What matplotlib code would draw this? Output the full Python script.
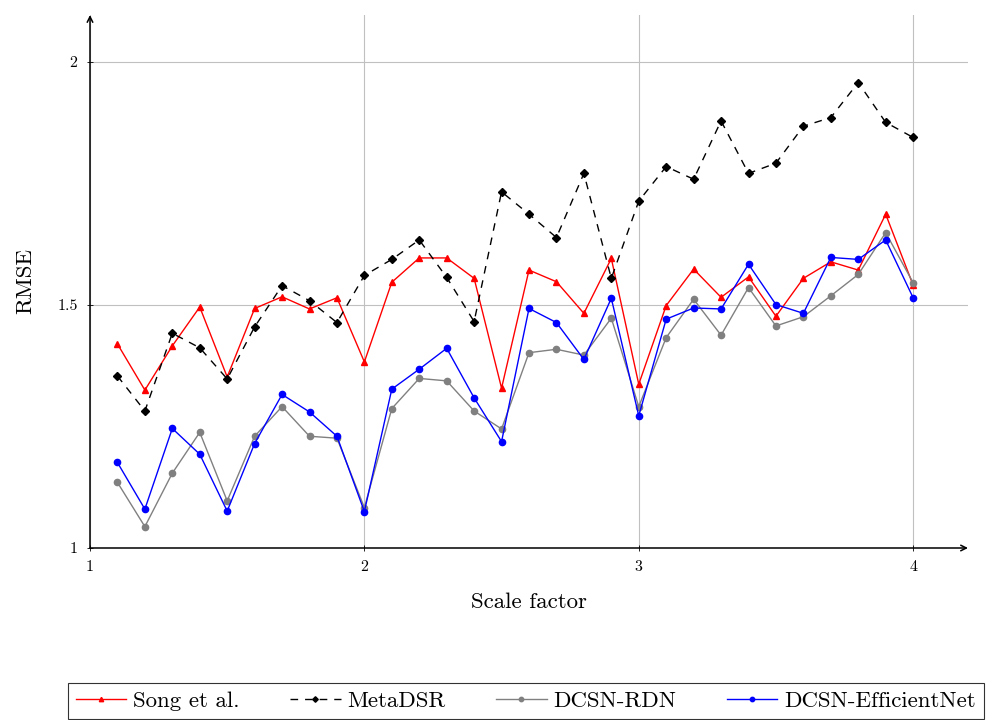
import matplotlib
matplotlib.use("Agg")
import matplotlib.pyplot as plt

scale = [1.1, 1.2, 1.3, 1.4, 1.5, 1.6, 1.7, 1.8, 1.9, 2.0,
         2.1, 2.2, 2.3, 2.4, 2.5, 2.6, 2.7, 2.8, 2.9, 3.0,
         3.1, 3.2, 3.3, 3.4, 3.5, 3.6, 3.7, 3.8, 3.9, 4.0]

song = [1.420, 1.325, 1.416, 1.496, 1.352, 1.493, 1.517, 1.492, 1.515, 1.383,
        1.547, 1.597, 1.597, 1.555, 1.329, 1.572, 1.548, 1.483, 1.596, 1.337,
        1.499, 1.574, 1.516, 1.558, 1.477, 1.555, 1.589, 1.572, 1.687, 1.541]

metadsr = [1.354, 1.282, 1.442, 1.412, 1.348, 1.455, 1.540, 1.509, 1.464, 1.561,
           1.594, 1.634, 1.557, 1.466, 1.733, 1.687, 1.639, 1.771, 1.555, 1.714,
           1.785, 1.759, 1.879, 1.771, 1.792, 1.868, 1.886, 1.958, 1.876, 1.845]

rdn = [1.135, 1.044, 1.154, 1.238, 1.097, 1.230, 1.291, 1.230, 1.226, 1.083,
       1.287, 1.349, 1.344, 1.282, 1.245, 1.402, 1.409, 1.397, 1.473, 1.291,
       1.433, 1.512, 1.438, 1.536, 1.457, 1.476, 1.519, 1.563, 1.649, 1.546]

effnet = [1.176, 1.080, 1.246, 1.193, 1.076, 1.215, 1.316, 1.280, 1.230, 1.075,
          1.327, 1.368, 1.411, 1.309, 1.219, 1.493, 1.464, 1.388, 1.514, 1.272,
          1.471, 1.494, 1.492, 1.584, 1.501, 1.483, 1.598, 1.594, 1.634, 1.515]

x_ticks = [1, 2, 3, 4]
y_ticks = [1, 1.5, 2]
y_ticklabels = ["1", "1.5", "2"]

plt.rcParams["font.family"] = ["cmr10", "DejaVu Serif"]
plt.rcParams["axes.formatter.use_mathtext"] = True

fig = plt.figure(figsize=(9.88, 7.2), dpi=100)
ax = fig.add_axes([90 / 988, 1 - 548 / 720, (968 - 90) / 988, (548 - 15) / 720])

ax.plot(scale, song, color="red", lw=1, marker="^", ms=4.5, label="Song et al.")
ax.plot(scale, metadsr, color="black", lw=1, ls=(0, (5.5, 5)), marker="D", ms=4,
        label="MetaDSR")
ax.plot(scale, rdn, color="gray", lw=1, marker="o", ms=4.5, label="DCSN-RDN")
ax.plot(scale, effnet, color="blue", lw=1, marker="o", ms=4.5,
        label="DCSN-EfficientNet")

ax.set_xlim(1, 4.2)
ax.set_ylim(1, 2.097)
ax.set_xticks(x_ticks)
ax.set_xticklabels([str(t) for t in x_ticks], fontsize=11.5)
ax.set_yticks(y_ticks)
ax.set_yticklabels(y_ticklabels, fontsize=11.5)
ax.tick_params(length=4, direction="inout", width=0.6, pad=7)
ax.grid(True, color="#c0c0c0", lw=0.8)
ax.set_axisbelow(True)

for s in ax.spines.values():
    s.set_visible(False)
ax.annotate("", xy=(1.0, 0), xytext=(0, 0), xycoords="axes fraction",
            arrowprops=dict(arrowstyle="->", color="black", lw=1.1,
                            shrinkA=0, shrinkB=0))
ax.annotate("", xy=(0, 1.0), xytext=(0, 0), xycoords="axes fraction",
            arrowprops=dict(arrowstyle="->", color="black", lw=1.1,
                            shrinkA=0, shrinkB=0))

ax.set_xlabel("Scale factor", fontsize=16.5, labelpad=13)
ax.set_ylabel("RMSE", fontsize=16.5, labelpad=16)

leg = fig.legend(loc="upper left", bbox_to_anchor=(68 / 988, 1 - 683 / 720),
                 ncol=4, fontsize=16.5, frameon=True, fancybox=False,
                 edgecolor="black", handlelength=2.2, handletextpad=0.3,
                 columnspacing=2.2, borderpad=0.35, borderaxespad=0,
                 markerscale=0.7)
leg.get_frame().set_linewidth(0.8)

fig.savefig("out.png", dpi=100)
